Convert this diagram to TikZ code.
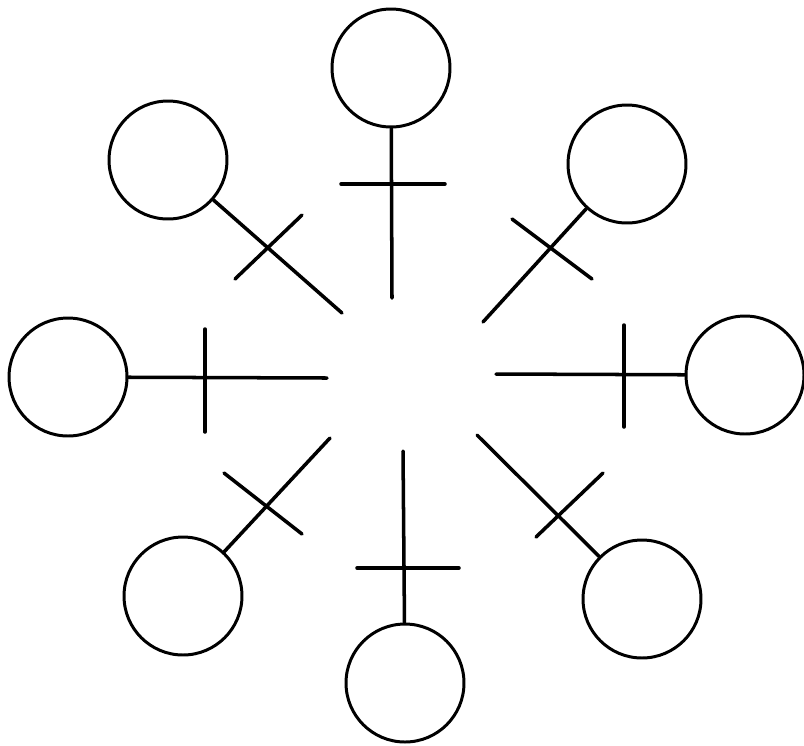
\documentclass[tikz,border=0pt]{standalone}
\usepackage{tikz}
\usetikzlibrary{positioning}

\tikzset{
  ring/.style={circle,draw,line width=1.7pt,minimum size=2.36cm,inner sep=0pt},
  spoke/.style={line width=2pt,line cap=round},
  bar/.style={line width=2pt,line cap=round}
}

\begin{document}
\begin{tikzpicture}[x=0.02cm,y=-0.02cm,line cap=round]
\useasboundingbox (0,0) rectangle (804,745);
% circles
\node[ring] (cT)  at (391,68)  {};
\node[ring] (cTR) at (627,164) {};
\node[ring] (cR)  at (745,375) {};
\node[ring] (cBR) at (642,599) {};
\node[ring] (cB)  at (405,683) {};
\node[ring] (cBL) at (183,596) {};
\node[ring] (cL)  at (68,377)  {};
\node[ring] (cTL) at (168,160) {};
% inner ends of the spokes
\coordinate (hT)  at (392,298);
\coordinate (hTR) at (483,322);
\coordinate (hR)  at (496,374);
\coordinate (hBR) at (477,435);
\coordinate (hB)  at (403,451);
\coordinate (hBL) at (330,438);
\coordinate (hL)  at (327,378);
\coordinate (hTL) at (342,313);
% crossbar ends
\coordinate (aT)  at (341,184); \coordinate (bT)  at (445,184);
\coordinate (aTR) at (512,219); \coordinate (bTR) at (592,279);
\coordinate (aR)  at (624,325); \coordinate (bR)  at (624,427);
\coordinate (aBR) at (603,473); \coordinate (bBR) at (536,537);
\coordinate (aB)  at (357,568); \coordinate (bB)  at (459,568);
\coordinate (aBL) at (224,473); \coordinate (bBL) at (302,534);
\coordinate (aL)  at (205,329); \coordinate (bL)  at (205,432);
\coordinate (aTL) at (302,215); \coordinate (bTL) at (235,279);
% spokes and crossbars
\foreach \d in {T,TR,R,BR,B,BL,L,TL}{
  \draw[spoke] (c\d) -- (h\d);
  \draw[bar] (a\d) -- (b\d);
}
\end{tikzpicture}
\end{document}
